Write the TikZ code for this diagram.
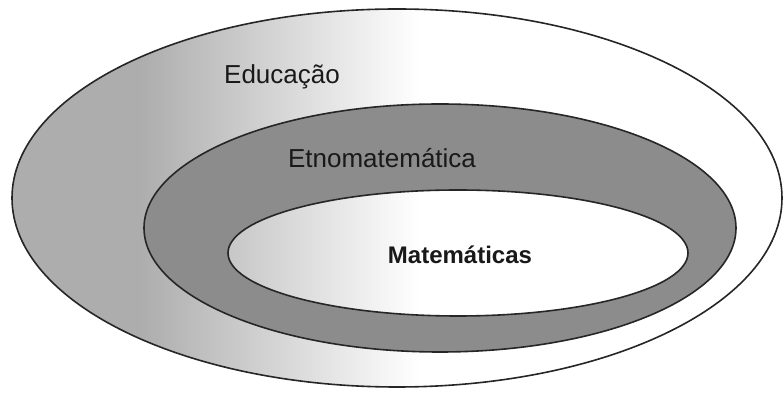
\documentclass[tikz,border=0pt]{standalone}
\usepackage{fontspec}
\setmainfont{Liberation Sans}
\usetikzlibrary{positioning}
\definecolor{ringgray}{HTML}{8C8C8C}
\definecolor{fadegray}{HTML}{ADADAD}
\tikzset{
  rim/.style={draw=black!85, line width=0.8pt},
  setlabel/.style={font=\fontsize{13}{15}\selectfont, text=black!90, inner sep=0pt},
}

\begin{document}
\begin{tikzpicture}[x=0.5pt, y=-0.5pt]
            \useasboundingbox (0,0) rectangle (784,395);

            \begin{scope}
                \clip (397,198) ellipse [x radius=385, y radius=189];
                \fill [fadegray] (0,0) rectangle (140,395);
                \shade [left color=fadegray, right color=white] (140,0) rectangle (420,395);
            \end{scope}
            \draw [rim] (397,198) ellipse [x radius=385, y radius=189];

            \draw [rim, fill=ringgray] (440,228) ellipse [x radius=296, y radius=124];

            \begin{scope}
                \clip (458,253) ellipse [x radius=230, y radius=63];
                \fill [white] (0,0) rectangle (784,395);
                \shade [left color=fadegray, right color=white] (140,0) rectangle (420,395);
            \end{scope}
            \draw [rim] (458,253) ellipse [x radius=230, y radius=63];

            \node [setlabel] (edu) at (282,77) {Educação};
            \node [setlabel] (etno) at (382,158) {Etnomatemática};
            \node [setlabel, font=\fontsize{12}{15}\selectfont\bfseries] (mat) at (460,255) {Matemáticas};
        \end{tikzpicture}
\end{document}
